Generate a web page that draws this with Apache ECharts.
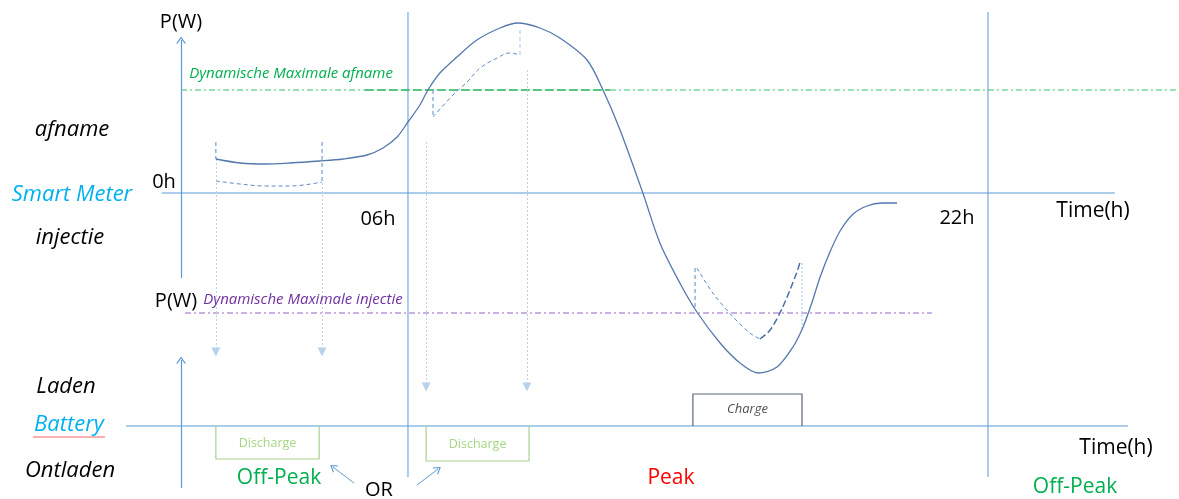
<!DOCTYPE html>
<html><head><meta charset="utf-8">
<script src="https://cdn.jsdelivr.net/npm/echarts@6/dist/echarts.min.js"></script>
<style>html,body{margin:0;padding:0;background:#fff}#c{width:1179px;height:499px}</style>
</head><body><div id="c"></div>
<script>
// ---------- DATA (time in hours, power in arbitrary units) ----------
const demandHours = [0.70,1.37,2.06,2.74,3.57,4.21,4.87,5.31,5.70,6.00,6.33,6.55,6.88,7.35,7.90,8.54,9.03,9.64,10.19,10.94,11.38,11.85,12.48,12.95,13.50,13.97,14.61,15.16,15.66,16.18,16.62,16.90,17.14,17.37,17.64,17.92,18.28,18.66,19.07,19.49];
const demandPower = [3.4,3.0,2.9,3.0,3.2,3.4,3.8,4.5,5.6,7.1,8.8,10.3,12.0,13.6,15.3,16.5,17.0,16.5,15.5,13.3,10.3,6.3,0.0,-5.0,-9.0,-11.9,-15.0,-17.0,-18.0,-17.4,-15.4,-13.4,-11.0,-8.4,-5.9,-3.8,-2.1,-1.3,-1.0,-1.0];
const offPeakHours = [0.70,1.37,2.06,2.74,3.63];
const offPeakPower = [1.2,0.9,0.7,0.7,1.1];
const peakShaveHours = [6.69,7.24,7.63,7.99,8.46,8.81,9.09];
const peakShavePower = [7.6,9.8,11.1,12.5,13.5,14.0,13.8];
const chargeDownHours = [13.97,14.41,14.97,15.43,15.71];
const chargeDownPower = [-7.5,-10.0,-12.4,-14.0,-14.6];
const chargeUpHours = [15.71,15.99,16.34,16.72,16.81];
const chargeUpPower = [-14.6,-13.7,-11.4,-8.0,-7.0];
const maxAfname = 10.3;
const maxInjectie = -12.0;
const periodBounds = [6, 22];
const tickHours = [0, 6, 22];
const tickLabels = ['0h', '06h', '22h'];
const dischargeStart = [0.70, 6.50];
const dischargeEnd = [3.55, 9.34];
const dischargeDepth = [-3.3, -3.5];
const chargeStart = 13.86, chargeEnd = 16.87, chargeLevel = 3.2;

// ---------- STYLE ----------
const FONT = '"Open Sans"';
const C = {axis:'#5b9bd5', curve:'#5478ac', dash:'#5f8bc3', light:'#b9d2ec', green:'#34c06a', greenDark:'#22b35a', purple:'#9563c6'};
const chevron = 'path://M0,10 L5,0 L10,10 L8.5,10 L5,3 L1.5,10 Z';
const zip = (a, b) => a.map((v, i) => [v, b[i]]);

function poly(g, pts, color, width, type, smooth, z) {
  return {type:'line', xAxisIndex:g, yAxisIndex:g, data:pts, symbol:'none', silent:true, animation:false,
    smooth: smooth || false, z: z || 2, lineStyle:{color:color, width:width, type:type || 'solid'}};
}
function arrow(g, from, to, color, width, type, sym, size) {
  return {type:'line', xAxisIndex:g, yAxisIndex:g, data:[], silent:true, animation:false,
    markLine:{silent:true, animation:false, symbol:['none', sym], symbolSize:size, label:{show:false},
      emphasis:{disabled:true}, lineStyle:{color:color, width:width, type:type}, data:[[{coord:from},{coord:to}]]}};
}

const series = [];
// Smart-meter axes
series.push(arrow(0, [-0.26,-8.5], [-0.26,15.3], C.axis, 1.2, 'solid', chevron, [10,7]));
series.push(poly(0, [[-0.79,0],[25.5,0]], C.axis, 1.2));
// period boundaries
periodBounds.forEach(h => series.push(poly(0, [[h,18.1],[h,-28.4]], C.axis, 1)));
// limits
series.push(poly(0, [[-0.26,maxAfname],[4.81,maxAfname]], C.green, 1, [6,3,2,3]));
series.push(poly(0, [[4.81,maxAfname],[11.57,maxAfname]], C.greenDark, 1.4, [9,3]));
series.push(poly(0, [[11.57,maxAfname],[27.3,maxAfname]], C.green, 1, [6,3,2,3]));
series.push(poly(0, [[-0.15,maxInjectie],[20.45,maxInjectie]], C.purple, 1.1, [6,3,2,3]));
// light projection arrows
[[0.70,3.4,-15.9],[3.63,1.0,-15.9],[6.50,5.1,-19.4],[9.28,12.3,-19.4]].forEach(a =>
  series.push(arrow(0, [a[0],a[1]], [a[0],a[2]], C.light, 1, [2,2], 'triangle', [9,9])));
series.push(poly(0, [[16.87,-7.0],[16.87,-13.7]], C.light, 1.2, [2,2]));
// dark dashed connectors
series.push(poly(0, [[0.70,5.1],[0.70,3.4]], C.dash, 1, [4,3]));
series.push(poly(0, [[3.63,5.1],[3.63,1.0]], C.dash, 1, [4,3]));
series.push(poly(0, [[6.69,maxAfname],[6.69,7.6]], C.dash, 1, [4,3]));
series.push(poly(0, [[9.09,13.8],[9.09,16.5]], C.light, 1.2, [4,3]));
series.push(poly(0, [[13.92,-11.4],[13.92,-7.5]], C.dash, 1, [4,3]));
// curves
series.push(poly(0, zip(demandHours, demandPower), C.curve, 1.3, 'solid', 0.3, 5));
series.push(poly(0, zip(offPeakHours, offPeakPower), C.dash, 1, [4,3], 0.4));
series.push(poly(0, zip(peakShaveHours, peakShavePower), C.dash, 1, [4,3], 0.4));
series.push(poly(0, zip(chargeDownHours, chargeDownPower), C.dash, 1, [4,3], 0.3));
series.push(poly(0, zip(chargeUpHours, chargeUpPower), '#4a72a8', 1.5, [7,3], 0.3));

// Battery axes
series.push(arrow(1, [-0.26,-6.2], [-0.26,6.6], C.axis, 1.2, 'solid', chevron, [10,7]));
series.push(poly(1, [[-1.78,0],[25.86,0]], C.axis, 1.2));
// battery boxes
dischargeStart.forEach((s, i) => {
  const e = dischargeEnd[i], d = dischargeDepth[i];
  series.push(poly(1, [[s,0],[s,d],[e,d],[e,0]], '#a9d18e', 1.2));
});
series.push(poly(1, [[chargeStart,0],[chargeStart,chargeLevel],[chargeEnd,chargeLevel],[chargeEnd,0]], '#5a6677', 1.2));
// box labels
series.push({type:'scatter', xAxisIndex:1, yAxisIndex:1, symbolSize:0, silent:true, animation:false,
  data: dischargeStart.map((s, i) => ({value:[(s + dischargeEnd[i]) / 2, dischargeDepth[i] / 2 - 0.05],
    label:{show:true, position:'inside', formatter:'Discharge', color:'#8fca66', fontSize:12.5, fontFamily:FONT}}))
    .concat([{value:[(chargeStart + chargeEnd) / 2, chargeLevel / 2 + 0.1],
      label:{show:true, position:'inside', formatter:'Charge', color:'#222', fontSize:13, fontStyle:'italic', fontFamily:FONT}}])});
// OR arrows
series.push(arrow(1, [4.51,-5.7], [3.93,-4.1], C.axis, 1, 'solid', chevron, [9,7]));
series.push(arrow(1, [6.25,-5.9], [6.83,-4.3], C.axis, 1, 'solid', chevron, [9,7]));

// ---------- TEXT ----------
function txt(t, x, y, size, color, italic) {
  return {type:'text', x:x, y:y, silent:true, z:100,
    style:{text:t, fill:color || '#000', fontSize:size, fontFamily:FONT, fontStyle: italic ? 'italic' : 'normal',
      align:'center', verticalAlign:'middle', textAlign:'center', textVerticalAlign:'middle'}};
}
const tickPos = [[164,182],[378,219],[957,218]];
const graphics = [
  txt('P(W)', 181, 22, 20),
  txt('Dynamische Maximale afname', 291, 74, 15, '#00b050', true),
  txt('afname', 72, 130, 22, '#000', true),
  txt('Smart Meter', 72, 195, 22, '#00b0f0', true),
  txt('injectie', 70, 238, 22, '#000', true),
  txt('Time(h)', 1093, 211, 21),
  txt('P(W)', 176, 301, 20),
  txt('Dynamische Maximale injectie', 303, 300, 15, '#7030a0', true),
  txt('Laden', 66, 387, 22, '#000', true),
  txt('Battery', 69, 425, 22, '#00b0f0', true),
  txt('Ontladen', 70, 471, 22, '#000', true),
  txt('Off-Peak', 279, 478, 21, '#00b050'),
  txt('OR', 379, 490, 20),
  txt('Peak', 671, 478, 21, '#ff0000'),
  txt('Time(h)', 1116, 448, 21),
  txt('Off-Peak', 1075, 487, 21, '#00b050')
].concat(tickLabels.map((t, i) => txt(t, tickPos[i][0], tickPos[i][1], 20)));
// spell-check wavy underline under "Battery"
const wave = [];
for (let x = 33; x <= 106; x += 2) wave.push([x, 436 + ((x / 2) % 2 ? 1 : -1)]);
graphics.push({type:'polyline', silent:true, shape:{points:wave}, style:{stroke:'#f06060', lineWidth:1, fill:null}});

const chart = echarts.init(document.getElementById('c'), null, {renderer:'canvas'});
chart.setOption({
  backgroundColor:'#fff',
  animation:false,
  grid:[{left:0,right:0,top:0,bottom:0},{left:0,right:0,top:0,bottom:0}],
  xAxis:[{type:'value', gridIndex:0, min:-5.255, max:27.27, show:false},
         {type:'value', gridIndex:1, min:-5.255, max:27.27, show:false}],
  yAxis:[{type:'value', gridIndex:0, min:-30.6, max:19.3, show:false},
         {type:'value', gridIndex:1, min:-7.3, max:42.6, show:false}],
  series: series,
  graphic: graphics
});
</script></body></html>
